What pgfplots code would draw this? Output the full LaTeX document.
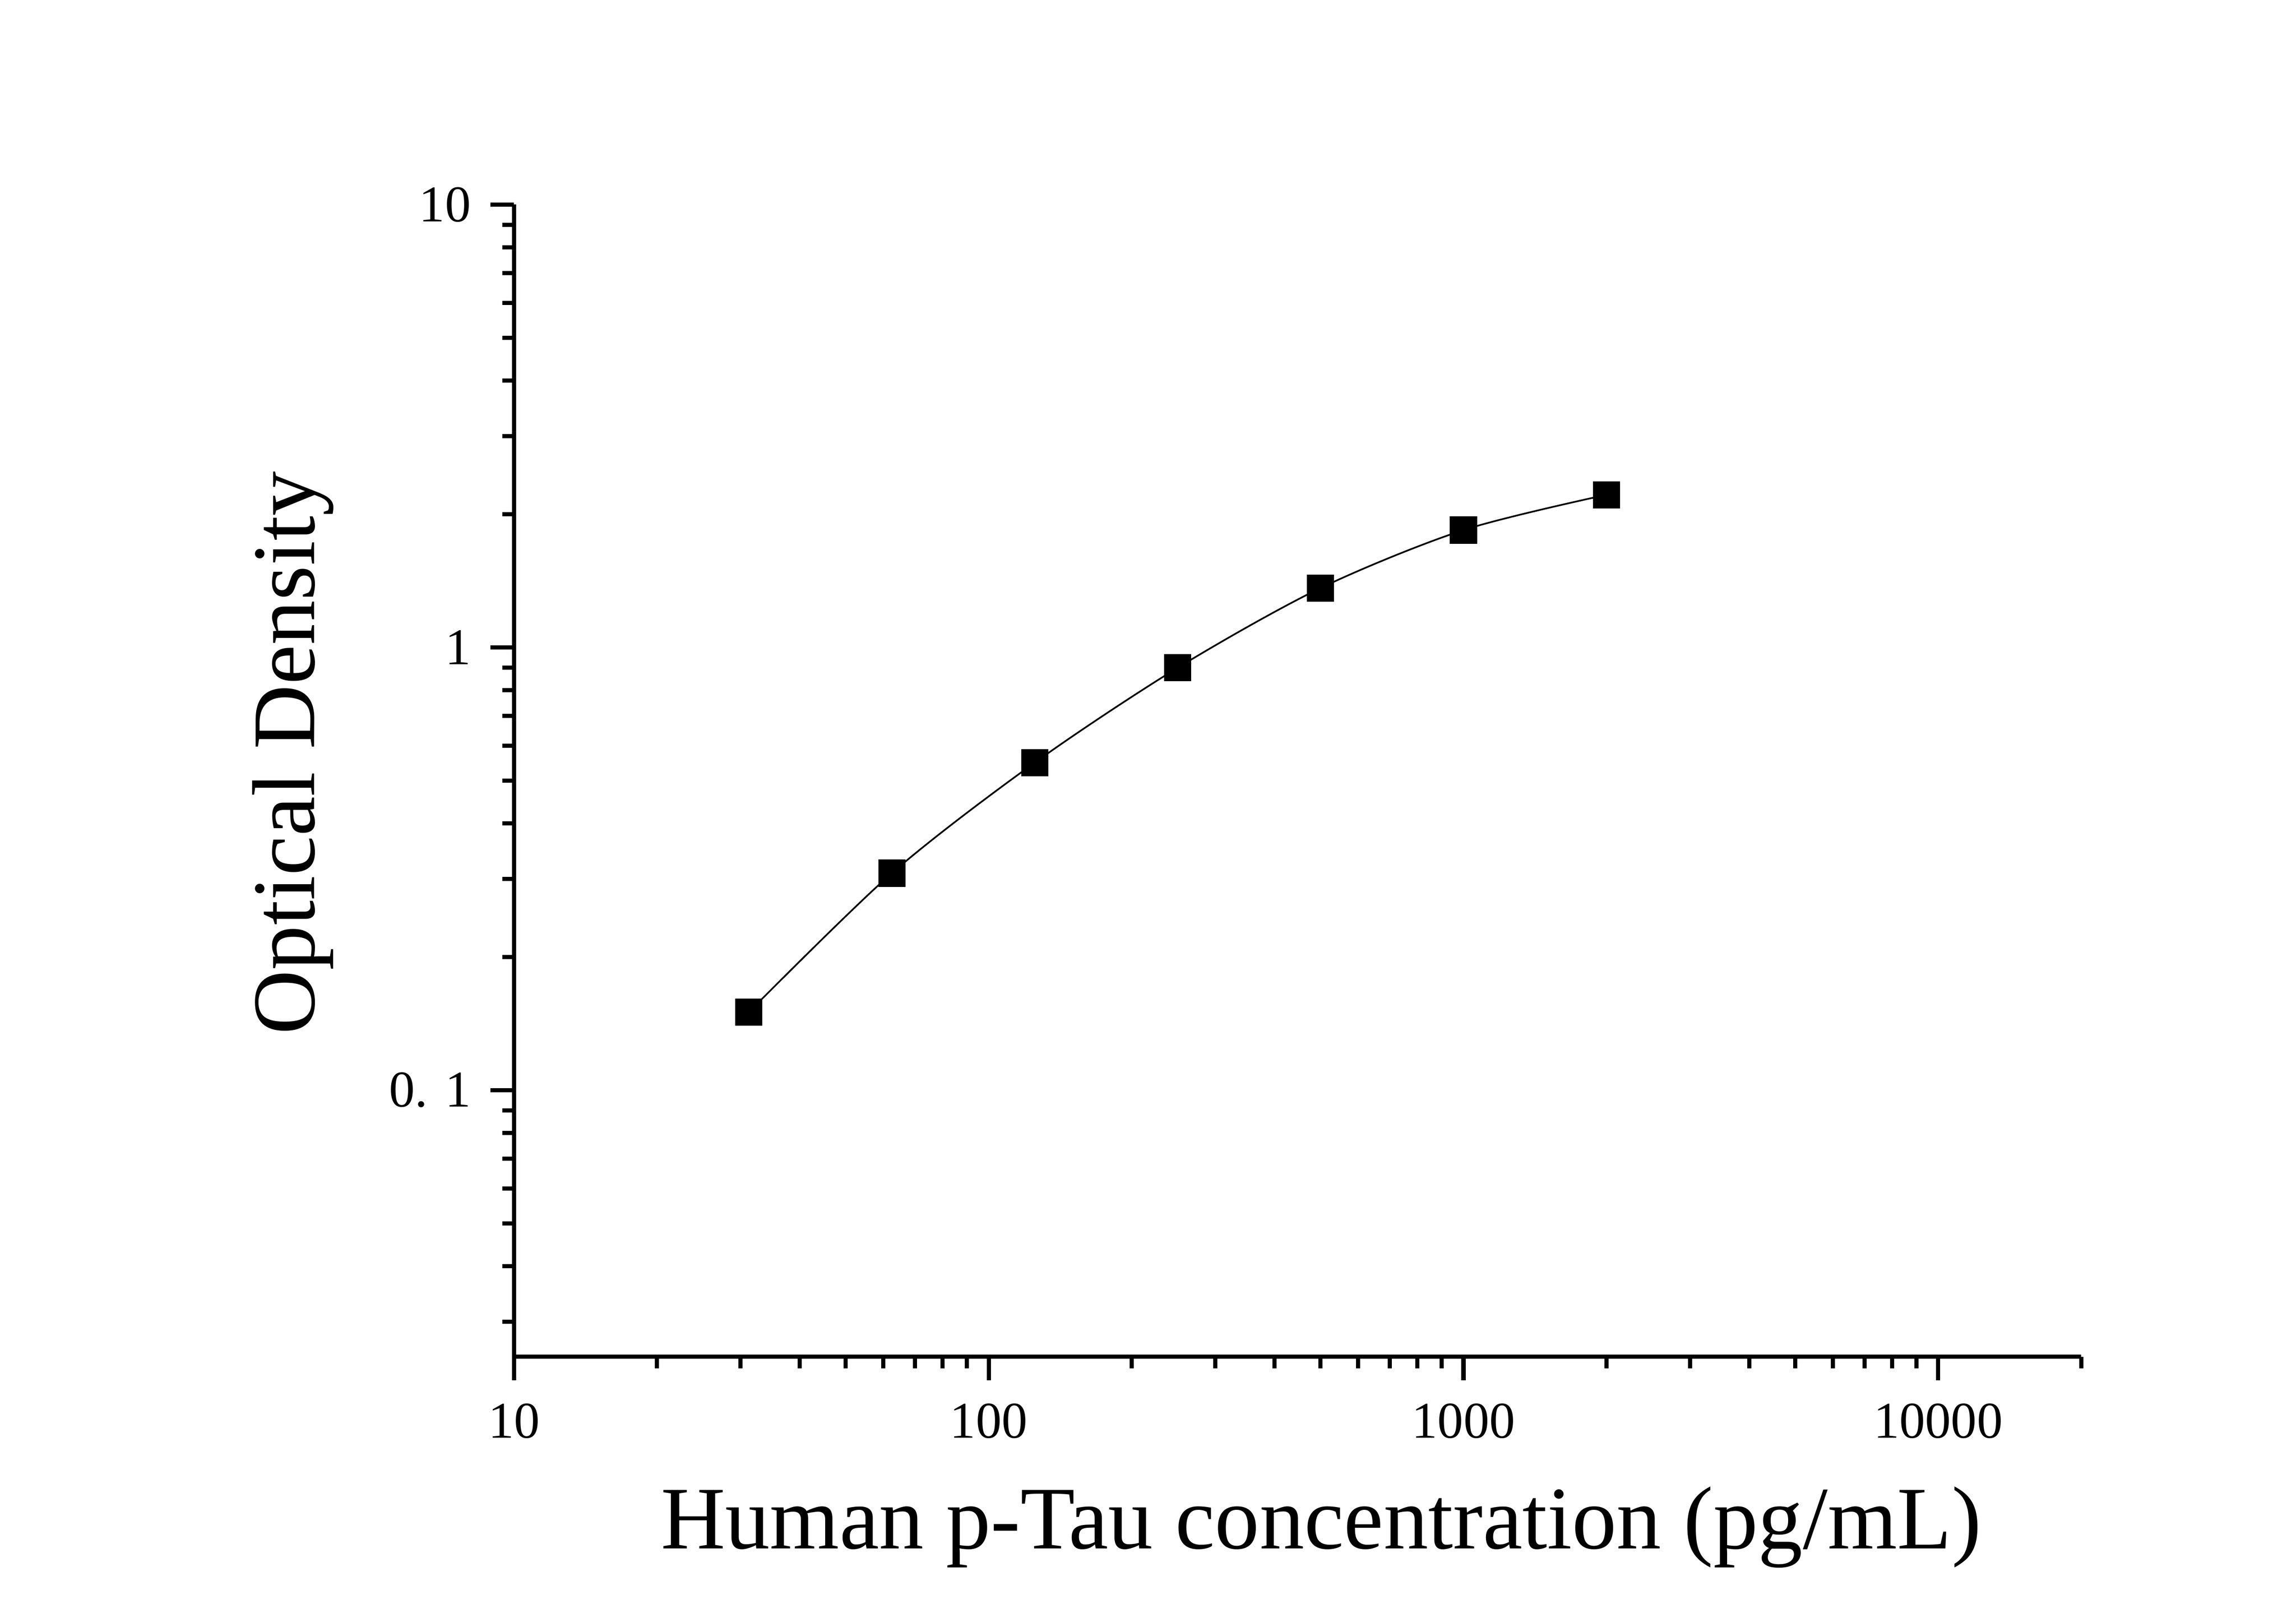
\documentclass[border=0pt]{standalone}
\usepackage{fontspec}
\setmainfont{Liberation Serif}
\usepackage{pgfplots}
\pgfplotsset{compat=1.18}
\begin{document}
\begin{tikzpicture}
\useasboundingbox (0,0) rectangle (413.93pt,289.08pt);
\begin{axis}[
  at={(92.66pt,44.57pt)}, anchor=south west,
  scale only axis, width=282.53pt, height=207.65pt,
  xmode=log, ymode=log,
  xmin=10, xmax=20000, ymin=0.025, ymax=10,
  axis lines*=left,
  axis line style={line width=0.75pt, black},
  tick align=outside,
  major tick length=4.25pt, minor tick length=2.1pt,
  every tick/.style={line width=0.75pt, black},
  xtick={10,100,1000,10000}, xticklabels={10,100,1000,10000},
  minor xtick={20,30,40,50,60,70,80,90,200,300,400,500,600,700,800,900,2000,3000,4000,5000,6000,7000,8000,9000,20000},
  ytick={0.1,1,10}, yticklabels={0. 1,1,10},
  minor ytick={0.03,0.04,0.05,0.06,0.07,0.08,0.09,0.2,0.3,0.4,0.5,0.6,0.7,0.8,0.9,2,3,4,5,6,7,8,9},
  ticklabel style={font=\fontsize{9.3}{11}\selectfont},
  xticklabel style={yshift=-0.7pt},
  xlabel={Human p-Tau concentration (pg/mL)},
  ylabel={Optical Density},
  label style={font=\fontsize{16.1}{19}\selectfont},
  xlabel style={at={(rel axis cs:0.515,-0.1668)}, anchor=base},
  ylabel style={at={(rel axis cs:-0.1274,0.5239)}, anchor=base},
  clip=false,
]
\addplot[black, line width=0.3pt, smooth, mark=square*, mark size=2.3pt, mark options={solid, fill=black}]
  coordinates {(31.25,0.150) (62.5,0.309) (125,0.549) (250,0.899) (500,1.361) (1000,1.84) (2000,2.21)};
\end{axis}
\end{tikzpicture}
\end{document}
